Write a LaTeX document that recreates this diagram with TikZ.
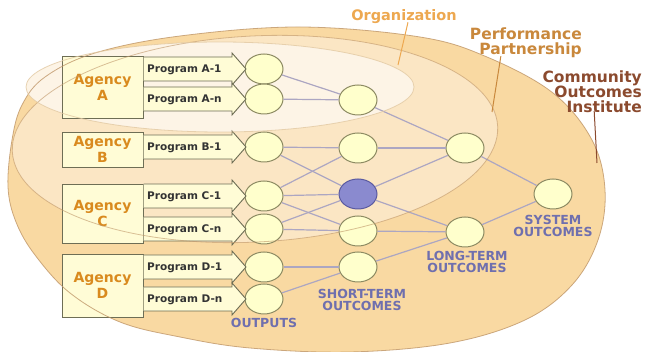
\documentclass[tikz,border=0pt]{standalone}
\usepackage{fontspec}
\setmainfont{DejaVu Sans}
\usetikzlibrary{shapes.geometric}
\definecolor{outerfill}{HTML}{F9D9A2}
\definecolor{midfill}{HTML}{FBE6C4}
\definecolor{innerfill}{HTML}{FDF4E6}
\definecolor{ellline}{HTML}{BF9668}
\definecolor{innerline}{HTML}{E2C9A2}
\definecolor{boxfill}{HTML}{FFFCD6}
\definecolor{boxline}{HTML}{6E6E55}
\definecolor{circfill}{HTML}{FFFFCC}
\definecolor{circline}{HTML}{8C8A62}
\definecolor{bluefill}{HTML}{8A8ACF}
\definecolor{blueline}{HTML}{5A5AA0}
\definecolor{edgecol}{HTML}{ACA6C2}
\definecolor{agencycol}{HTML}{D98A1E}
\definecolor{outcol}{HTML}{6F6FAE}
\definecolor{orgcol}{HTML}{EDA850}
\definecolor{ppcol}{HTML}{C9883C}
\definecolor{coicol}{HTML}{8B4A2E}
\definecolor{progcol}{HTML}{333333}
\tikzset{
  outc/.style={ellipse, draw=circline, fill=circfill, line width=1pt, minimum width=38pt, minimum height=30pt, inner sep=0pt},
  bluec/.style={outc, draw=blueline, fill=bluefill},
  agbox/.style={draw=boxline, fill=boxfill, line width=0.9pt, text=agencycol, align=center, inner sep=0pt, font=\fontsize{14}{16}\selectfont\bfseries},
  progtext/.style={text=progcol, inner sep=0pt, font=\fontsize{10.5}{12}\selectfont\bfseries},
  outlbl/.style={text=outcol, align=center, inner sep=0pt, font=\fontsize{12.5}{11.5}\selectfont\bfseries},
  toplbl/.style={inner sep=0pt, align=right, font=\fontsize{15.5}{15}\selectfont\bfseries},
  link/.style={draw=edgecol, line width=1.2pt},
}
\begin{document}
\begin{tikzpicture}[x=1pt,y=-1pt]
\useasboundingbox (0,0) rectangle (654,352);
\def\outerpath{plot[smooth cycle, tension=0.6] coordinates {(8,187) (12,140) (22,105) (45,77) (95,53) (180,36) (300,27) (420,37) (487,57) (553,93) (592,140) (605,190) (598,240) (572,285) (525,320) (450,343) (350,352) (250,348) (180,337) (120,322) (70,293) (35,255) (16,222)}}
% ellipses (fills)
\fill[outerfill] \outerpath;
\fill[midfill, rotate around={3:(255,139)}] (255,139) ellipse [x radius=243, y radius=103];
\fill[innerfill] (220,87) ellipse [x radius=194, y radius=45];
% circles
\node[outc] (o1) at (264,69) {};
\node[outc] (o2) at (264,99) {};
\node[outc] (o3) at (264,147) {};
\node[outc] (o4) at (264,196) {};
\node[outc] (o5) at (264,229) {};
\node[outc] (o6) at (264,267) {};
\node[outc] (o7) at (264,299) {};
\node[outc] (s1) at (358,100) {};
\node[outc] (s2) at (358,148) {};
\node[bluec] (s3) at (358,194) {};
\node[outc] (s4) at (358,231) {};
\node[outc] (s5) at (358,267) {};
\node[outc] (l1) at (465,148) {};
\node[outc] (l2) at (465,232) {};
\node[outc] (sy) at (553,194) {};
% links
\foreach \a/\b in {o1/s1,o2/s1,s1/l1,o3/s2,o3/s3,o4/s2,o4/s3,o4/s4,o5/s3,o5/s4,o6/s5,o7/s5,s2/l1,s3/l1,s3/l2,s4/l2,s5/l2,l1/sy,l2/sy}
  \draw[link] (\a) -- (\b);
% agency boxes
\node[agbox, minimum width=81pt, minimum height=62pt] (ba) at (102.5,87) {Agency\\A};
\node[agbox, minimum width=81pt, minimum height=35pt] (bb) at (102.5,149.5) {Agency\\B};
\node[agbox, minimum width=81pt, minimum height=59pt] (bc) at (102.5,213.5) {Agency\\C};
\node[agbox, minimum width=81pt, minimum height=63pt] (bd) at (102.5,285.5) {Agency\\D};
% program arrows
\foreach \y/\t/\n in {69/Program A-1/pa1, 99/Program A-n/pan, 147/Program B-1/pb1, 196/Program C-1/pc1, 229/Program C-n/pcn, 267/Program D-1/pd1, 299/Program D-n/pdn}{
  \fill[boxfill] (143.5,\y-12) -- (232,\y-12) -- (232,\y-16) -- (246,\y) -- (232,\y+16) -- (232,\y+12) -- (143.5,\y+12) -- cycle;
  \draw[boxline, line width=0.9pt, line join=miter] (143.5,\y-12) -- (232,\y-12) -- (232,\y-16) -- (246,\y) -- (232,\y+16) -- (232,\y+12) -- (143.5,\y+12);
  \node[progtext, anchor=west] (\n) at (147,\y+1) {\t};
}
% ellipse outlines on top
\draw[ellline, line width=0.8pt, opacity=0.8] \outerpath;
\draw[ellline, line width=0.8pt, opacity=0.6, rotate around={3:(255,139)}] (255,139) ellipse [x radius=243, y radius=103];
\draw[innerline, line width=0.8pt, opacity=0.8] (220,87) ellipse [x radius=194, y radius=45];
% outcome labels
\node[outlbl] (lout) at (264,323) {OUTPUTS};
\node[outlbl] (lst) at (362,300) {SHORT-TERM\\OUTCOMES};
\node[outlbl] (llt) at (467,262) {LONG-TERM\\OUTCOMES};
\node[outlbl] (lsy) at (553,226) {SYSTEM\\OUTCOMES};
% top labels
\node[toplbl, text=orgcol, font=\fontsize{14.5}{15}\selectfont\bfseries] (lorg) at (404,17) {Organization};
\node[toplbl, text=ppcol, anchor=east] (lpp) at (582,43) {Performance\\Partnership};
\node[toplbl, text=coicol, anchor=east] (lcoi) at (642,92) {Community\\Outcomes\\Institute};
\coordinate (orgend) at (398,65);
\coordinate (ppend) at (492,112);
\coordinate (coiend) at (597,163);
\draw[orgcol, line width=1pt] ([xshift=4pt,yshift=2pt]lorg.south) -- (orgend);
\draw[ppcol, line width=1pt] ([xshift=-25pt,yshift=2pt]lpp.south) -- (ppend);
\draw[coicol, line width=1pt] ([xshift=2pt,yshift=2pt]lcoi.south) -- (coiend);
\end{tikzpicture}
\end{document}
